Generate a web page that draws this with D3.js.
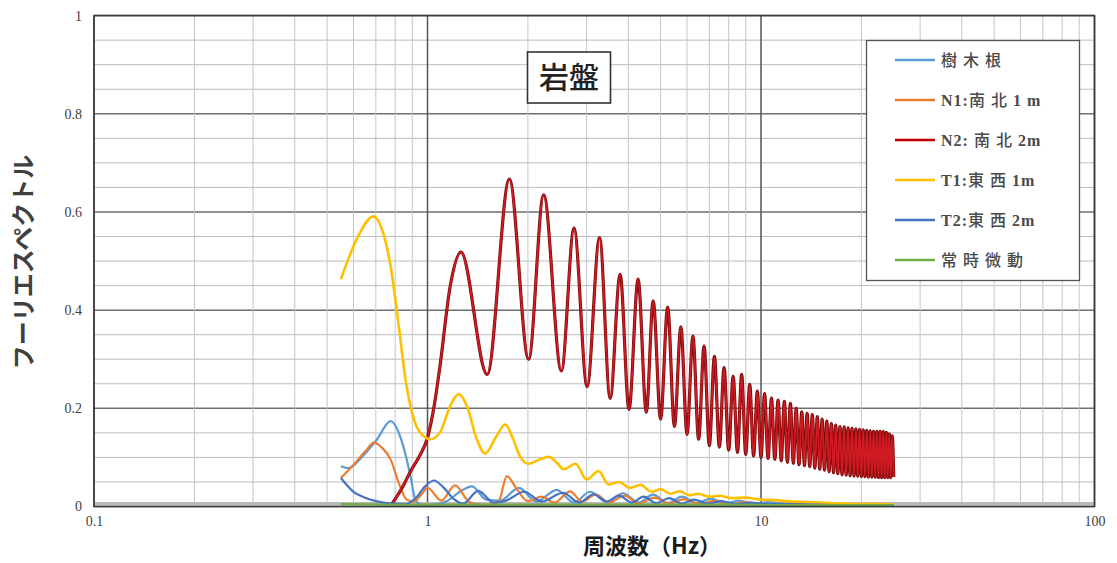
<!DOCTYPE html>
<html>
<head>
<meta charset="utf-8">
<script src="https://cdn.jsdelivr.net/npm/d3@7"></script>
<style>
  body { margin: 0; background: #fff; }
  svg { display: block; }
</style>
</head>
<body>
<svg id="chart" width="1117" height="563"></svg>
<script>
// ---- series labels and colours ----
const seriesNames = ["樹木根", "N1:南北1 m", "N2: 南北2m", "T1:東西1m", "T2:東西2m", "常時微動"];
const seriesColors = ["#5b9bd5", "#ed7d31", "#c00000", "#ffc000", "#4472c4", "#70ad47"];

// ---- axis ticks ----
const xTickValues = [0.1, 1, 10, 100];
const yTickValues = [0, 0.2, 0.4, 0.6, 0.8, 1];

// ---- 樹木根 ----
const freqTree = [0.55, 0.58, 0.64, 0.706, 0.775, 0.84, 0.889, 0.92, 0.96, 1.05, 1.15, 1.25, 1.36, 1.5, 1.65, 1.88, 2.12, 2.44, 2.75, 3.07, 3.45, 3.86, 4.3, 4.75, 5.25, 5.8, 6.4, 7.1, 7.8, 8.6, 9.5, 10.5, 12, 14, 17, 20, 25];
const ampTree  = [0.082, 0.078, 0.103, 0.137, 0.174, 0.13, 0.062, 0.014, 0.003, 0.004, 0.012, 0.03, 0.041, 0.014, 0.012, 0.038, 0.01, 0.034, 0.008, 0.03, 0.009, 0.027, 0.008, 0.024, 0.007, 0.02, 0.007, 0.016, 0.006, 0.012, 0.005, 0.009, 0.005, 0.004, 0.003, 0.003, 0.002];

// ---- N1: 南北1m ----
const freqN1 = [0.55, 0.6, 0.656, 0.69, 0.73, 0.775, 0.82, 0.866, 0.91, 0.96, 1.0, 1.1, 1.21, 1.33, 1.45, 1.58, 1.64, 1.73, 1.85, 2.0, 2.2, 2.4, 2.68, 2.9, 3.2, 3.5, 3.9, 4.3, 4.8, 5.3, 5.9, 6.5, 7.3, 8, 9, 10, 12, 15, 20, 25];
const ampN1  = [0.058, 0.085, 0.115, 0.13, 0.12, 0.096, 0.048, 0.014, 0.01, 0.025, 0.038, 0.012, 0.043, 0.01, 0.003, 0.005, 0.012, 0.062, 0.036, 0.011, 0.02, 0.008, 0.031, 0.01, 0.024, 0.008, 0.022, 0.006, 0.018, 0.006, 0.015, 0.005, 0.012, 0.004, 0.009, 0.004, 0.006, 0.003, 0.003, 0.002];

// ---- N2: 南北2m ----
const freqN2 = [0.78, 0.85, 0.89, 0.95, 1.0, 1.05, 1.09, 1.17, 1.26, 1.51, 1.76, 2.01, 2.23, 2.52, 2.75, 3.01, 3.28, 3.53, 3.78, 4.02, 4.28, 4.53, 4.75,
  5.0, 5.25, 5.5, 5.75, 6.0, 6.25, 6.5, 6.75, 7.0, 7.25, 7.5, 7.75, 8.0, 8.25, 8.5, 8.75, 9.0, 9.25, 9.5, 9.75,
  10.0, 10.25, 10.5, 10.75, 11.0, 11.25, 11.5, 11.75, 12.0, 12.25, 12.5, 12.75, 13.0, 13.25, 13.5, 13.75, 14.0, 14.25, 14.5, 14.75,
  15.0, 15.25, 15.5, 15.75, 16.0, 16.25, 16.5, 16.75, 17.0, 17.25, 17.5, 17.75, 18.0, 18.25, 18.5, 18.75, 19.0, 19.25, 19.5, 19.75,
  20.0, 20.25, 20.5, 20.75, 21.0, 21.25, 21.5, 21.75, 22.0, 22.25, 22.5, 22.75, 23.0, 23.25, 23.5, 23.75, 24.0, 24.25, 24.5, 24.75, 25.0];
const ampN2 = [0.004, 0.045, 0.072, 0.105, 0.14, 0.21, 0.286, 0.449, 0.518, 0.269, 0.667, 0.3, 0.635, 0.276, 0.567, 0.244, 0.548, 0.22, 0.473, 0.198, 0.463, 0.192, 0.419,
  0.178, 0.406, 0.163, 0.366, 0.147, 0.347, 0.137, 0.327, 0.124, 0.306, 0.121, 0.283, 0.115, 0.265, 0.11, 0.269, 0.106, 0.249, 0.103, 0.235,
  0.1, 0.23, 0.098, 0.221, 0.096, 0.217, 0.093, 0.214, 0.09, 0.21, 0.088, 0.2, 0.085, 0.193, 0.083, 0.19, 0.081, 0.187, 0.078, 0.183,
  0.076, 0.178, 0.074, 0.174, 0.071, 0.169, 0.069, 0.166, 0.067, 0.163, 0.065, 0.162, 0.064, 0.16, 0.063, 0.159, 0.062, 0.158, 0.062, 0.157,
  0.061, 0.156, 0.061, 0.155, 0.06, 0.154, 0.06, 0.153, 0.06, 0.153, 0.059, 0.153, 0.059, 0.153, 0.059, 0.151, 0.059, 0.148, 0.059, 0.144, 0.06];

// ---- T1: 東西1m ----
const freqT1 = [0.55, 0.614, 0.688, 0.73, 0.775, 0.82, 0.859, 0.91, 0.975, 1.02, 1.09, 1.17, 1.24, 1.32, 1.4, 1.49, 1.6, 1.71, 1.8, 1.9, 2.01, 2.15, 2.31, 2.45, 2.56, 2.78, 3.0, 3.26, 3.49, 3.75, 4.05, 4.35, 4.7, 5.0, 5.35, 5.7, 6.1, 6.5, 7.0, 7.5, 8.2, 9, 10, 11, 12.5, 14, 16, 18, 20, 22, 25];
const ampT1  = [0.463, 0.545, 0.591, 0.565, 0.49, 0.368, 0.259, 0.178, 0.143, 0.137, 0.151, 0.205, 0.229, 0.2, 0.14, 0.108, 0.14, 0.167, 0.14, 0.1, 0.087, 0.095, 0.101, 0.088, 0.076, 0.087, 0.055, 0.072, 0.045, 0.05, 0.038, 0.044, 0.03, 0.035, 0.026, 0.031, 0.023, 0.026, 0.02, 0.022, 0.017, 0.018, 0.014, 0.013, 0.01, 0.009, 0.007, 0.006, 0.005, 0.005, 0.004];

// ---- T2: 東西2m ----
const freqT2 = [0.55, 0.6, 0.65, 0.7, 0.78, 0.86, 0.93, 0.98, 1.045, 1.12, 1.2, 1.28, 1.42, 1.58, 1.72, 1.95, 2.2, 2.55, 2.85, 3.15, 3.45, 3.75, 4.1, 4.45, 4.85, 5.3, 5.8, 6.3, 6.9, 7.6, 8.4, 9.3, 10.5, 12, 14, 17, 20, 25];
const ampT2  = [0.058, 0.03, 0.018, 0.011, 0.006, 0.005, 0.02, 0.04, 0.053, 0.038, 0.015, 0.006, 0.032, 0.008, 0.012, 0.03, 0.01, 0.028, 0.008, 0.025, 0.01, 0.022, 0.008, 0.02, 0.007, 0.017, 0.006, 0.014, 0.006, 0.011, 0.005, 0.008, 0.005, 0.005, 0.004, 0.003, 0.003, 0.002];

// ---- 常時微動 ----
const freqMic = [0.55, 0.8, 1, 1.5, 2, 3, 5, 8, 12, 18, 25];
const ampMic  = [0.005, 0.004, 0.004, 0.004, 0.004, 0.004, 0.004, 0.004, 0.003, 0.003, 0.003];

const seriesFreq = [freqTree, freqN1, freqN2, freqT1, freqT2, freqMic];
const seriesAmp  = [ampTree, ampN1, ampN2, ampT1, ampT2, ampMic];

// ---- layout ----
const svg = d3.select("#chart");
const plotLeft = 94, plotRight = 1094.5, plotTop = 15.6, plotBottom = 506.5;

const x = d3.scaleLog().domain([0.1, 100]).range([plotLeft, plotRight]);
const y = d3.scaleLinear().domain([0, 1]).range([plotBottom, plotTop]);

const serif = "'Liberation Serif', 'Times New Roman', serif";
const cjk = "'Noto Sans CJK JP', 'Noto Sans', sans-serif";

// grid: horizontal
const yGrid = y.ticks(20);
const isMajorY = d => Math.round(d * 100) % 20 === 0;
svg.append("g").selectAll("line").data(yGrid).join("line")
  .attr("x1", plotLeft).attr("x2", plotRight)
  .attr("y1", d => y(d)).attr("y2", d => y(d))
  .attr("stroke", d => isMajorY(d) ? "#6e6e6e" : "#bcbcbc")
  .attr("stroke-width", d => isMajorY(d) ? 1.5 : 1);

// grid: vertical (log decades)
const xGrid = x.ticks();
const isMajorX = d => Math.abs(Math.log10(d) - Math.round(Math.log10(d))) < 1e-9;
svg.append("g").selectAll("line").data(xGrid).join("line")
  .attr("x1", d => x(d)).attr("x2", d => x(d))
  .attr("y1", plotTop).attr("y2", plotBottom)
  .attr("stroke", d => isMajorX(d) ? "#555" : "#c2c5cc")
  .attr("stroke-width", d => isMajorX(d) ? 1.5 : 1);

// zero-line band along the x axis
svg.append("line")
  .attr("x1", plotLeft).attr("x2", plotRight)
  .attr("y1", y(0) - 3).attr("y2", y(0) - 3)
  .attr("stroke", "#b8b8b8").attr("stroke-width", 3);

// ---- curves ----
const line = d3.line()
  .x(d => x(d[0]))
  .y(d => y(d[1]))
  .curve(d3.curveMonotoneX);

const curves = svg.append("g");
seriesNames.forEach((name, i) => {
  const pts = d3.zip(seriesFreq[i], seriesAmp[i]);
  if (i === 2) {
    // N2 drawn with a dark rim and a brighter core
    curves.append("path").datum(pts).attr("d", line)
      .attr("fill", "none").attr("stroke", "#7a0c0c").attr("stroke-width", 3.2)
      .attr("stroke-linejoin", "round");
    curves.append("path").datum(pts).attr("d", line)
      .attr("fill", "none").attr("stroke", "#d01a22").attr("stroke-width", 1.8)
      .attr("stroke-linejoin", "round");
  } else {
    curves.append("path").datum(pts).attr("d", line)
      .attr("fill", "none").attr("stroke", seriesColors[i])
      .attr("stroke-width", i === 3 ? 2.6 : 2.2)
      .attr("stroke-linejoin", "round");
  }
});

// ---- frame ----
svg.append("rect")
  .attr("x", plotLeft).attr("y", plotTop)
  .attr("width", plotRight - plotLeft).attr("height", plotBottom - plotTop)
  .attr("fill", "none").attr("stroke", "#3a3a3a").attr("stroke-width", 1.6);

// ---- axes ----
const xAxis = svg.append("g")
  .attr("transform", `translate(0,${plotBottom})`)
  .call(d3.axisBottom(x).tickValues(xTickValues).tickFormat(d3.format("~g")).tickSize(0).tickPadding(10));
const yAxis = svg.append("g")
  .attr("transform", `translate(${plotLeft},0)`)
  .call(d3.axisLeft(y).tickValues(yTickValues).tickFormat(d3.format("~g")).tickSize(0).tickPadding(12));
[xAxis, yAxis].forEach(g => {
  g.select(".domain").remove();
  g.selectAll("text").attr("font-family", serif).attr("font-size", 14).attr("fill", "#404040");
});

// ---- axis titles ----
svg.append("text")
  .attr("transform", "translate(32,262) rotate(-90)")
  .attr("text-anchor", "middle")
  .attr("font-family", cjk).attr("font-size", 24).attr("font-weight", 700)
  .attr("fill", "#404040")
  .text("フーリエスペクトル");

svg.append("text")
  .attr("x", 652).attr("y", 554)
  .attr("text-anchor", "middle")
  .attr("font-family", cjk).attr("font-size", 22).attr("font-weight", 700)
  .attr("fill", "#1a1a1a")
  .text("周波数（Hz）");

// ---- chart label ----
const tag = svg.append("g");
tag.append("rect")
  .attr("x", 527.5).attr("y", 52).attr("width", 83).attr("height", 51)
  .attr("fill", "#fff").attr("stroke", "#333").attr("stroke-width", 1.6);
tag.append("text")
  .attr("x", 569).attr("y", 88)
  .attr("text-anchor", "middle")
  .attr("font-family", cjk).attr("font-size", 30).attr("font-weight", 500)
  .attr("fill", "#222")
  .text("岩盤");

// ---- legend ----
const legend = svg.append("g");
legend.append("rect")
  .attr("x", 866.5).attr("y", 40.5).attr("width", 213).attr("height", 240)
  .attr("fill", "#fff").attr("stroke", "#555").attr("stroke-width", 1.3);
const rows = legend.selectAll("g.row").data(seriesNames).join("g")
  .attr("class", "row")
  .attr("transform", (d, i) => `translate(0,${60 + i * 40})`);
rows.append("line")
  .attr("x1", 895).attr("x2", 935).attr("y1", 0).attr("y2", 0)
  .attr("stroke", (d, i) => seriesColors[i]).attr("stroke-width", 2.5);

// legend labels: Latin runs in bold serif, kanji runs in lighter sans
const labels = rows.append("text")
  .attr("x", 941).attr("y", 6)
  .attr("font-size", 16)
  .attr("fill", "#4a4a4a");
labels.each(function (d) {
  const runs = d.match(/[\x00-\x7f]+|[^\x00-\x7f]+/g);
  const t = d3.select(this);
  runs.forEach(r => {
    const latin = /^[\x00-\x7f]+$/.test(r);
    t.append("tspan")
      .attr("font-family", latin ? serif : cjk)
      .attr("font-weight", latin ? 700 : 500)
      .attr("letter-spacing", latin ? 1 : 6)
      .text(r);
  });
});
</script>
</body>
</html>
